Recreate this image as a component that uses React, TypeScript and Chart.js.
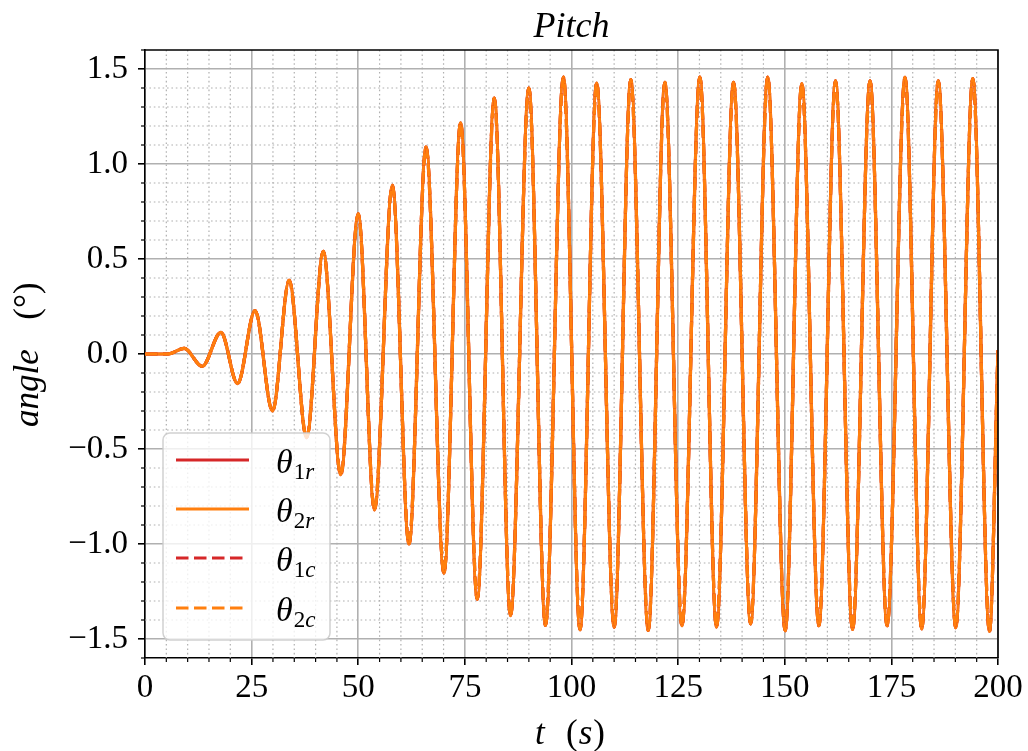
import React, { useEffect, useRef } from 'react';
import { Chart, registerables } from 'chart.js';

Chart.register(...registerables);

// time (s) of each turning point of the pitch response
const tSeconds = [
  0, 5.4, 9.2, 13.4, 17.8, 21.7, 25.8, 29.9, 33.8, 37.9, 41.8, 45.9, 50.0, 53.8,
  58.0, 61.9, 65.9, 70.1, 74.0, 77.9, 81.9, 85.7, 90.0, 93.9, 98.1, 102.0, 105.9,
  110.0, 113.9, 118.0, 121.9, 125.9, 130.1, 134.0, 138.0, 142.0, 146.0, 150.1,
  154.0, 158.0, 161.9, 165.9, 170.0, 174.0, 178.2, 182.1, 186.0, 190.1, 194.1,
  198.0, 200.0,
];
// pitch angle (deg) at those times
const pitchDeg = [
  0, 0, 0.03, -0.065, 0.114, -0.156, 0.228, -0.3, 0.387, -0.44, 0.54, -0.635,
  0.738, -0.82, 0.887, -1.0, 1.089, -1.153, 1.216, -1.29, 1.347, -1.377, 1.4,
  -1.428, 1.458, -1.451, 1.426, -1.437, 1.444, -1.455, 1.43, -1.43, 1.458,
  -1.437, 1.43, -1.42, 1.458, -1.456, 1.423, -1.43, 1.438, -1.45, 1.437, -1.43,
  1.456, -1.447, 1.437, -1.44, 1.45, -1.46, 0.02,
];

const xTickValues = [0, 25, 50, 75, 100, 125, 150, 175, 200];
const yTickValues = [-1.5, -1.0, -0.5, 0.0, 0.5, 1.0, 1.5];
const seriesSubscripts = [['1', 'r'], ['2', 'r'], ['1', 'c'], ['2', 'c']];
const titleText = 'Pitch';

const RED = '#d62728';
const ORANGE = '#ff7f0e';
const FONT = 'Liberation Serif';

const legendStyles = [
  { color: RED, dash: [] as number[] },
  { color: ORANGE, dash: [] as number[] },
  { color: RED, dash: [12.5, 5.5] },
  { color: ORANGE, dash: [12.5, 5.5] },
];

const fmtY = (v: number) => {
  const n = Number(v);
  if (Math.abs(n) < 1e-9) return '0.0';
  return n < 0 ? '\u2212' + Math.abs(n).toFixed(1) : n.toFixed(1);
};

const minorPlugin = {
  id: 'minorGrid',
  beforeDatasetsDraw(chart: any) {
    const { ctx, chartArea: a, scales } = chart;
    const x = scales.x;
    const y = scales.y;
    ctx.save();
    ctx.strokeStyle = '#b0b0b0';
    ctx.lineWidth = 1.2;
    ctx.setLineDash([1.6, 2.8]);
    for (let i = 1; i < 40; i++) {
      if (i % 5 === 0) continue;
      const px = x.getPixelForValue(i * 5);
      ctx.beginPath();
      ctx.moveTo(px, a.top);
      ctx.lineTo(px, a.bottom);
      ctx.stroke();
    }
    for (let i = -16; i <= 16; i++) {
      if (i % 5 === 0) continue;
      const py = y.getPixelForValue(i / 10);
      if (py < a.top + 0.5 || py > a.bottom - 0.5) continue;
      ctx.beginPath();
      ctx.moveTo(a.left, py);
      ctx.lineTo(a.right, py);
      ctx.stroke();
    }
    // minor tick marks
    ctx.setLineDash([]);
    ctx.strokeStyle = '#000';
    ctx.lineWidth = 1.2;
    for (let i = 1; i < 40; i++) {
      if (i % 5 === 0) continue;
      const px = x.getPixelForValue(i * 5);
      ctx.beginPath();
      ctx.moveTo(px, a.bottom);
      ctx.lineTo(px, a.bottom + 4);
      ctx.stroke();
    }
    for (let i = -16; i <= 16; i++) {
      if (i % 5 === 0) continue;
      const py = y.getPixelForValue(i / 10);
      if (py < a.top || py > a.bottom) continue;
      ctx.beginPath();
      ctx.moveTo(a.left, py);
      ctx.lineTo(a.left - 4, py);
      ctx.stroke();
    }
    ctx.restore();
  },
  afterDatasetsDraw(chart: any) {
    const { ctx, chartArea: a } = chart;
    ctx.save();
    ctx.strokeStyle = '#000';
    ctx.lineWidth = 1.6;
    ctx.beginPath();
    ctx.moveTo(a.left, a.top);
    ctx.lineTo(a.right, a.top);
    ctx.lineTo(a.right, a.bottom);
    ctx.stroke();
    ctx.restore();
  },
  afterDraw(chart: any) {
    const { ctx, chartArea: a } = chart;
    ctx.save();
    // legend box
    const bx = 163, by = 433, bw = 167, bh = 207, r = 7;
    ctx.beginPath();
    ctx.moveTo(bx + r, by);
    ctx.lineTo(bx + bw - r, by);
    ctx.arcTo(bx + bw, by, bx + bw, by + r, r);
    ctx.lineTo(bx + bw, by + bh - r);
    ctx.arcTo(bx + bw, by + bh, bx + bw - r, by + bh, r);
    ctx.lineTo(bx + r, by + bh);
    ctx.arcTo(bx, by + bh, bx, by + bh - r, r);
    ctx.lineTo(bx, by + r);
    ctx.arcTo(bx, by, bx + r, by, r);
    ctx.closePath();
    ctx.fillStyle = 'rgba(255,255,255,0.8)';
    ctx.fill();
    ctx.strokeStyle = 'rgba(204,204,204,0.9)';
    ctx.lineWidth = 1.5;
    ctx.stroke();

    const rowY = [460, 509, 558, 608];
    seriesSubscripts.forEach((sub, i) => {
      const st = legendStyles[i];
      const ly = rowY[i];
      ctx.strokeStyle = st.color;
      ctx.lineWidth = 3;
      ctx.setLineDash(st.dash);
      ctx.beginPath();
      ctx.moveTo(176, ly);
      ctx.lineTo(st.dash.length ? 247 : 249, ly);
      ctx.stroke();
      ctx.setLineDash([]);
      ctx.fillStyle = '#000';
      ctx.textAlign = 'left';
      ctx.textBaseline = 'alphabetic';
      ctx.font = `italic 34px "${FONT}"`;
      ctx.fillText('\u03b8', 276, ly + 13);
      let sx = 276 + ctx.measureText('\u03b8').width + 1;
      ctx.font = `23px "${FONT}"`;
      ctx.fillText(sub[0], sx, ly + 19);
      sx += ctx.measureText(sub[0]).width;
      ctx.font = `italic 23px "${FONT}"`;
      ctx.fillText(sub[1], sx, ly + 19);
    });

    // title
    ctx.fillStyle = '#000';
    ctx.textAlign = 'center';
    ctx.textBaseline = 'alphabetic';
    ctx.font = `italic 36px "${FONT}"`;
    ctx.fillText(titleText, (a.left + a.right) / 2, 37);

    // x axis label: t (s)
    ctx.textAlign = 'left';
    ctx.font = `italic 35px "${FONT}"`;
    ctx.fillText('t', 535, 744);
    ctx.font = `35px "${FONT}"`;
    ctx.fillText('(', 566, 744);
    let px = 566 + ctx.measureText('(').width + 1;
    ctx.font = `italic 35px "${FONT}"`;
    ctx.fillText('s', px, 744);
    px += ctx.measureText('s').width + 1;
    ctx.font = `35px "${FONT}"`;
    ctx.fillText(')', px, 744);

    // y axis label: angle (°)
    ctx.save();
    ctx.translate(38, 0);
    ctx.rotate(-Math.PI / 2);
    ctx.textAlign = 'left';
    ctx.font = `italic 35px "${FONT}"`;
    ctx.fillText('angle', -427, 0);
    ctx.font = `35px "${FONT}"`;
    const pw = ctx.measureText('(\u00b0)').width;
    ctx.fillText('(\u00b0)', -315 - (pw - 28) / 2, 0);
    ctx.restore();

    ctx.restore();
  },
};

export default function App() {
  const ref = useRef<HTMLCanvasElement | null>(null);

  useEffect(() => {
    if (!ref.current) return;
    const pts = tSeconds.map((t, i) => ({ x: t, y: pitchDeg[i] }));
    const base = {
      data: pts,
      pointRadius: 0,
      borderWidth: 3.2,
      fill: false,
      cubicInterpolationMode: 'monotone' as const,
    };
    const chart = new Chart(ref.current, {
      type: 'line',
      data: {
        datasets: [
          { ...base, label: '\u03b82c', borderColor: ORANGE, borderDash: [12.5, 5.5] },
          { ...base, label: '\u03b81c', borderColor: RED, borderDash: [12.5, 5.5] },
          { ...base, label: '\u03b82r', borderColor: ORANGE },
          { ...base, label: '\u03b81r', borderColor: RED },
        ],
      },
      options: {
        animation: false,
        responsive: false,
        events: [],
        layout: { padding: { left: 0, right: 30, top: 50, bottom: 0 } },
        plugins: {
          legend: { display: false },
          title: { display: false },
          tooltip: { enabled: false },
        },
        scales: {
          x: {
            type: 'linear',
            min: 0,
            max: 200,
            afterBuildTicks: (s: any) => {
              s.ticks = xTickValues.map((v) => ({ value: v }));
            },
            afterFit: (s: any) => {
              s.height = 93;
            },
            grid: {
              color: '#b0b0b0',
              lineWidth: 1.6,
              drawTicks: true,
              tickLength: 7,
              tickColor: '#000',
              tickWidth: 1.6,
            },
            border: { display: true, color: '#000', width: 1.6 },
            ticks: {
              color: '#000',
              maxRotation: 0,
              autoSkip: false,
              padding: 4,
              font: { family: FONT, size: 33 },
              callback: (v: any) => String(v),
            },
          },
          y: {
            type: 'linear',
            min: -1.6,
            max: 1.6,
            afterBuildTicks: (s: any) => {
              s.ticks = yTickValues.map((v) => ({ value: v }));
            },
            afterFit: (s: any) => {
              s.width = 145;
            },
            grid: {
              color: '#b0b0b0',
              lineWidth: 1.6,
              drawTicks: true,
              tickLength: 7,
              tickColor: '#000',
              tickWidth: 1.6,
            },
            border: { display: true, color: '#000', width: 1.6 },
            ticks: {
              color: '#000',
              autoSkip: false,
              padding: 10,
              font: { family: FONT, size: 33 },
              callback: (v: any) => fmtY(v),
            },
          },
        },
      },
      plugins: [minorPlugin],
    });
    return () => chart.destroy();
  }, []);

  return (
    <div style={{ position: 'absolute', left: 0, top: 0, width: 1028, height: 751, background: '#fff' }}>
      <canvas ref={ref} width={1028} height={751} style={{ display: 'block' }} />
    </div>
  );
}
